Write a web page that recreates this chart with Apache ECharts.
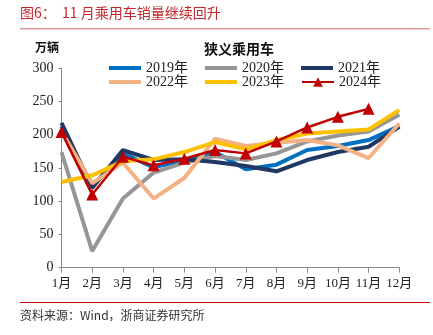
<!DOCTYPE html>
<html><head><meta charset="utf-8">
<script src="https://cdn.jsdelivr.net/npm/echarts@6/dist/echarts.min.js"></script>
<style>html,body{margin:0;padding:0;background:#fff;}#c{width:433px;height:335px;}</style>
</head><body><div id="c"></div>
<script>
const months = ['1月','2月','3月','4月','5月','6月','7月','8月','9月','10月','11月','12月'];
const s2019 = [213,122,172,151,162,174,148,155,177,183,192,213];
const s2020 = [174,25,104,143,158,168,162,172,190,199,205,230];
const s2021 = [218,120,177,162,163,159,153,145,162,174,182,212];
const s2022 = [205,127,158,104,135,194,183,188,192,184,165,217];
const s2023 = [129,139,160,163,174,189,178,192,202,205,208,237];
const s2024 = [204,110,167,154,164,177,172,190,211,227,239];
const names = ['2019年','2020年','2021年','2022年','2023年','2024年'];
const colors = ['#0070C0','#969696','#1F3864','#F4B183','#FFC000','#C00000'];
const serif = '"Liberation Serif","Times New Roman","Noto Sans CJK SC",serif';

const chart = echarts.init(document.getElementById('c'));
const dataSets = [s2019,s2020,s2021,s2022,s2023,s2024];
const series = dataSets.map((d,i)=>({
  name: names[i], type:'line', data:d,
  symbol: i===5 ? 'triangle' : 'none', symbolSize: 12,
  z: i===5 ? 10 : (i===4 ? 6 : 3+i),
  lineStyle:{width: i===5 ? 2.5 : 4, color: colors[i]},
  itemStyle:{color: colors[i]},
  emphasis:{disabled:true}, animation:false
}));
const lineIcon = 'path://M0,0H32V4H0Z';
const legendItems = names.map((n,i)=> i===5 ? {name:n} : {name:n, icon: lineIcon});
const legendText = {fontFamily: serif, fontSize: 14, color:'#222'};
chart.setOption({
  animation:false,
  graphic:[
    {type:'text', left:20, top:6, style:{text:'图6：  11 月乘用车销量继续回升', font:'14px "Noto Sans CJK SC", serif', fill:'#C0282D'}},
    {type:'rect', shape:{x:20,y:28,width:410,height:1.5}, style:{fill:'#E39B9B'}},
    {type:'rect', shape:{x:20,y:302,width:410,height:1}, style:{fill:'#C00000'}},
    {type:'text', left:20, top:309, style:{text:'资料来源：Wind，浙商证券研究所', font:'12px "Noto Sans CJK SC", serif', fill:'#333'}},
    {type:'text', left:35, top:41, style:{text:'万辆', font:'bold 12px "Noto Sans CJK SC"', fill:'#111'}},
    {type:'text', left:204, top:42, style:{text:'狭义乘用车', font:'bold 14px "Noto Sans CJK SC"', fill:'#111'}}
  ],
  legend:[
    {top:56, left:104, itemWidth:32, itemHeight:12, itemGap:17, textStyle:legendText, data:legendItems.slice(0,3), selectedMode:false},
    {top:70, left:104, itemWidth:32, itemHeight:12, itemGap:17, textStyle:legendText, data:legendItems.slice(3,6), selectedMode:false}
  ],
  grid:{left:61.5, right:33.7, top:68.3, bottom:67.3, containLabel:false},
  xAxis:{type:'category', data:months, boundaryGap:false,
    axisLine:{lineStyle:{color:'#898989', width:1}},
    axisTick:{show:true, length:5, alignWithLabel:true, lineStyle:{color:'#898989'}},
    axisLabel:{fontFamily:serif, fontSize:13, color:'#222', margin:9, interval:0}},
  yAxis:{type:'value', min:0, max:300, interval:50,
    axisLine:{show:true, lineStyle:{color:'#898989'}},
    axisTick:{show:true, length:3, lineStyle:{color:'#898989'}},
    splitLine:{show:false},
    axisLabel:{fontFamily:serif, fontSize:14, color:'#222', margin:8}},
  series
});
</script></body></html>
